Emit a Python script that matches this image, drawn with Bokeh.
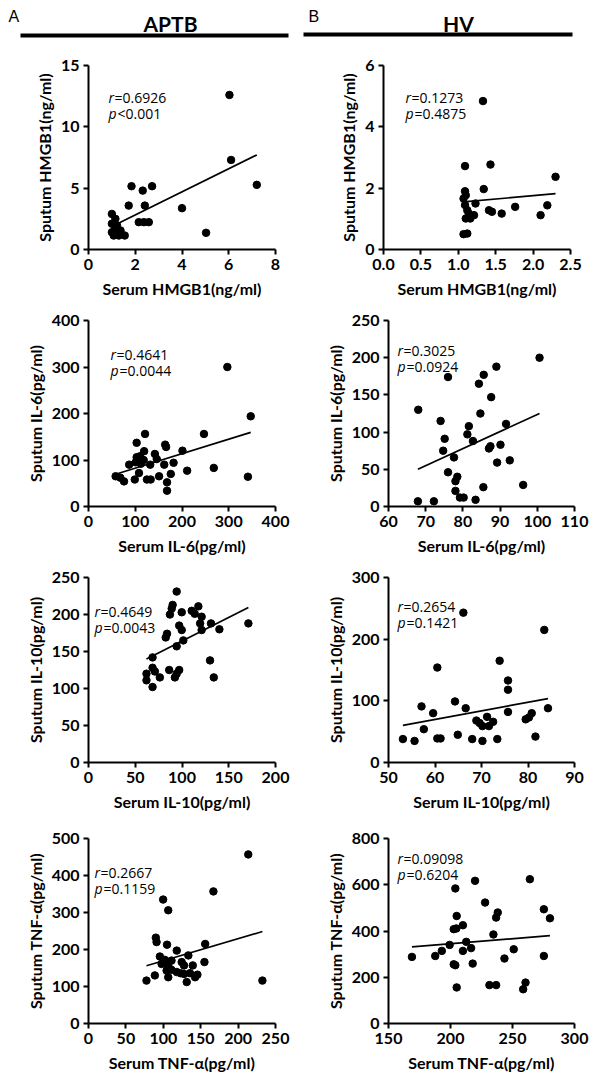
import numpy as np
from bokeh.plotting import figure
from bokeh.layouts import column, row
from bokeh.models import Range1d, FixedTicker, PrintfTickFormatter, Label
from bokeh.embed import file_html
from bokeh.resources import INLINE

# ---------------- data ----------------
# A-a  APTB HMGB1
aa_x = [1.0, 1.15, 1.0, 1.22, 1.0, 1.08, 1.3, 1.55, 1.15, 1.37, 2.15, 2.37, 2.58, 1.72, 2.41, 4.0,
        1.84, 2.32, 2.72, 5.03, 6.03, 6.1, 7.2]
aa_y = [2.9, 2.5, 2.1, 1.96, 1.41, 1.14, 1.14, 1.14, 1.68, 1.55, 2.23, 2.23, 2.23, 3.58, 3.58, 3.37,
        5.16, 4.8, 5.16, 1.36, 12.6, 7.3, 5.27]
# B-a  HV HMGB1
ba_x = [1.33, 1.09, 1.43, 2.30, 1.34, 1.09, 1.10, 1.23, 1.41, 1.45, 1.58, 1.76, 2.19, 2.10, 1.07,
        1.09, 1.12, 1.10, 1.16, 1.21, 1.14, 1.07, 1.12]
ba_y = [4.84, 2.72, 2.77, 2.37, 1.97, 1.90, 1.77, 1.50, 1.28, 1.23, 1.17, 1.39, 1.44, 1.12, 1.66,
        1.45, 1.28, 1.01, 1.01, 1.12, 1.17, 0.50, 0.52]
# A-b  APTB IL-6
ab_x = [297, 347, 247, 121, 103, 164, 166, 119, 201, 142, 146, 103, 110, 87, 101, 112, 132, 162,
        182, 211, 268, 176, 108, 58, 76, 99, 125, 133, 151, 168, 168, 341, 68, 118]
ab_y = [300, 194, 156, 156, 137, 133, 128, 119, 120, 113, 102, 106, 108, 90, 95, 92, 90, 90,
        94, 77, 83, 70, 72, 65, 54, 58, 58, 58, 65, 52, 34, 64, 62, 100]
# B-b  HV IL-6
bb_x = [100.6, 89.0, 76.0, 85.6, 84.3, 87.6, 68.0, 84.7, 74.0, 91.6, 81.6, 81.2, 75.1, 82.7, 90.1,
        87.4, 87.0, 74.7, 77.6, 92.6, 89.2, 76.0, 78.5, 78.0, 96.2, 85.5, 78.0, 79.2, 80.2, 83.4,
        67.9, 72.2]
bb_y = [200, 188, 174, 177, 165, 147, 130, 125, 115, 111, 108, 97, 91, 88, 83,
        81, 78, 75, 66, 62, 59, 46, 40, 34, 29, 26, 21, 12, 12, 9, 7, 7]
# A-c  APTB IL-10
ac_x = [94.3, 90, 89, 99.7, 87.1, 110.4, 117.5, 121, 119.4, 131, 140, 171, 97, 99.7, 121, 84, 82.6,
        101.4, 94.3, 68.5, 130, 86.3, 97, 94.3, 92.4, 76.3, 134, 68.5, 71, 62, 62, 68.5, 113.6]
ac_y = [231, 213, 208, 203, 200, 205, 211, 197, 188, 188, 180, 188, 185, 179, 179, 174, 169,
        165, 157, 142, 138, 125, 125, 120, 115, 115, 115, 128, 123, 120, 111, 102, 201]
# B-c  HV IL-10
bc_x = [53.1, 55.6, 57.1, 57.6, 59.6, 60.5, 60.5, 61.2, 64.3, 64.9, 66.6, 66.1, 68.0, 68.9, 69.6,
        70.2, 70.2, 71.2, 71.6, 72.5, 73.4, 73.9, 75.7, 75.7, 75.7, 79.5, 80.2, 80.8, 81.6, 83.5, 84.3]
bc_y = [38, 35, 91, 54, 80, 154, 39, 39, 99, 45, 88, 243, 38, 68, 64,
        59, 35, 74, 59, 66, 38, 165, 133, 118, 82, 70, 73, 80, 42, 215, 88]
# A-d  APTB TNF-a
ad_x = [213.6, 167, 99.8, 106.6, 232.5, 90, 91, 105, 118, 156, 95.4, 133.5, 102, 111, 97.7, 106.6,
        124.6, 127.7, 139.4, 155, 104.4, 111, 118, 123, 127.7, 135.7, 106.6, 145.6, 142.5, 88.7,
        77.5, 131.3]
ad_y = [457, 357, 335, 306, 116, 232, 220, 213, 197, 215, 181, 184, 172, 170, 161, 157,
        166, 157, 157, 166, 143, 145, 139, 136, 134, 136, 125, 132, 125, 130, 116, 112]
# B-d  HV TNF-a
bd_x = [168.9, 187.7, 193, 199.3, 202.6, 204.7, 203.9, 205, 210, 212.7, 210, 216.6, 202.6, 203.9,
        217.9, 205, 219.8, 227.9, 234.6, 236.8, 238.1, 231.4, 236.8, 243.5, 251, 264, 260.5, 258.6,
        275.3, 280.2, 275.3]
bd_y = [288, 292, 314, 340, 408, 411, 584, 465, 425, 353, 314, 326, 256, 252,
        259, 156, 617, 523, 385, 458, 480, 166, 166, 281, 321, 624, 177, 148,
        494, 455, 292]

stats_r = ["=0.6926", "=0.1273", "=0.4641", "=0.3025", "=0.4649", "=0.2654", "=0.2667", "=0.09098"]
stats_p = ["<0.001", "=0.4875", "=0.0044", "=0.0924", "=0.0043", "=0.1421", "=0.1159", "=0.6204"]

FONT = "Lato"
NOTE_FONT = "Open Sans"


def make_panel(x, y, xr, xticks, yr, yticks, xlab, ylab, rtxt, ptxt, letter,
               w, h, lb, rb, tb, bb, ann, let, xfmt=None):
    p = figure(width=w, height=h, x_range=Range1d(*xr), y_range=Range1d(*yr),
               output_backend="svg", toolbar_location=None,
               min_border_left=lb, min_border_right=rb, min_border_top=tb, min_border_bottom=bb)
    p.outline_line_color = None
    p.grid.visible = False
    p.background_fill_color = "white"
    p.border_fill_color = "white"
    for ax in (p.xaxis[0], p.yaxis[0]):
        ax.axis_line_width = 2
        ax.axis_line_color = "black"
        ax.major_tick_line_width = 2
        ax.major_tick_line_color = "black"
        ax.major_tick_out = 5
        ax.major_tick_in = 0
        ax.minor_tick_line_color = None
        ax.major_label_text_font = FONT
        ax.major_label_text_font_style = "bold"
        ax.major_label_text_font_size = "16px"
        ax.major_label_text_color = "black"
        ax.axis_label_text_font = FONT
        ax.axis_label_text_font_style = "bold"
        ax.axis_label_text_font_size = "16px"
        ax.axis_label_text_color = "black"
        ax.major_label_standoff = 4
    p.xaxis[0].axis_label_standoff = 6
    p.yaxis[0].axis_label_standoff = 4
    p.xaxis.ticker = FixedTicker(ticks=xticks)
    p.yaxis.ticker = FixedTicker(ticks=yticks)
    if xfmt:
        p.xaxis.formatter = PrintfTickFormatter(format=xfmt)
    p.xaxis.axis_label = xlab
    p.yaxis.axis_label = ylab

    p.scatter(x, y, size=7.5, color="black")
    k, b = np.polyfit(np.array(x, float), np.array(y, float), 1)
    xx = np.array([min(x), max(x)], float)
    p.line(xx, k * xx + b, line_width=1.7, color="black")

    dx, dy1, dy2 = ann
    common = dict(x=xr[0], y=yr[1], text_baseline="top", text_font=NOTE_FONT,
                  text_font_size="14px", text_color="black")
    p.add_layout(Label(text="r", x_offset=dx, y_offset=-dy1, text_font_style="italic", **common))
    p.add_layout(Label(text=rtxt, x_offset=dx + 6, y_offset=-dy1, **common))
    p.add_layout(Label(text="p", x_offset=dx, y_offset=-dy2, text_font_style="italic", **common))
    p.add_layout(Label(text=ptxt, x_offset=dx + 9, y_offset=-dy2, **common))

    lx, ly = let
    p.add_layout(Label(text=letter, x=xr[0], y=yr[1], x_offset=lx, y_offset=-ly,
                       text_baseline="alphabetic", text_font="Liberation Sans",
                       text_font_size="15px", text_color="black"))
    return p


# header
hdr = figure(width=600, height=45, x_range=Range1d(0, 600), y_range=Range1d(45, 0),
             output_backend="svg", toolbar_location=None,
             min_border=0, min_border_left=0, min_border_right=0, min_border_top=0, min_border_bottom=0)
hdr.axis.visible = False
hdr.grid.visible = False
hdr.outline_line_color = None
hdr.segment(x0=[20, 303], y0=[35, 34], x1=[288, 572], y1=[35, 34], line_width=4, color="black")
for t, xx in [("A", 8), ("B", 308)]:
    hdr.add_layout(Label(text=t, x=xx, y=7, text_font="Liberation Sans", text_font_size="16px",
                         text_align="left", text_baseline="top", text_color="black"))
for t, xx in [("APTB", 170), ("HV", 458)]:
    hdr.add_layout(Label(text=t, x=xx, y=10, text_font=FONT, text_font_size="21px",
                         text_font_style="bold", text_align="center", text_baseline="top",
                         text_color="black"))

LW = dict(w=300, lb=88, rb=25)
RWa = dict(w=300, lb=83, rb=30)
RW = dict(w=300, lb=88, rb=26)

Aa = make_panel(aa_x, aa_y, (0, 8), [0, 2, 4, 6, 8], (0, 15), [0, 5, 10, 15],
                "Serum HMGB1(ng/ml)", "Sputum HMGB1(ng/ml)", stats_r[0], stats_p[0], "a",
                h=260, tb=20, bb=56, ann=(20, 22, 38), let=(-76, 0), **LW)
Ba = make_panel(ba_x, ba_y, (0, 2.5), [0, 0.5, 1.0, 1.5, 2.0, 2.5], (0, 6), [0, 2, 4, 6],
                "Serum HMGB1(ng/ml)", "Sputum HMGB1(ng/ml)", stats_r[1], stats_p[1], "a",
                h=260, tb=20, bb=56, ann=(22, 22, 38), let=(-73, 0), xfmt="%.1f", **RWa)
Ab = make_panel(ab_x, ab_y, (0, 400), [0, 100, 200, 300, 400], (0, 400), [0, 100, 200, 300, 400],
                "Serum IL-6(pg/ml)", "Sputum IL-6(pg/ml)", stats_r[2], stats_p[2], "b",
                h=257, tb=15, bb=56, ann=(22, 24, 40), let=(-85, 2), **LW)
Bb = make_panel(bb_x, bb_y, (60, 110), [60, 70, 80, 90, 100, 110], (0, 250), [0, 50, 100, 150, 200, 250],
                "Serum IL-6(pg/ml)", "Sputum IL-6(pg/ml)", stats_r[3], stats_p[3], "b",
                h=257, tb=15, bb=56, ann=(9, 20, 36), let=(-81, 2), **RW)
Ac = make_panel(ac_x, ac_y, (0, 200), [0, 50, 100, 150, 200], (0, 250), [0, 50, 100, 150, 200, 250],
                "Serum IL-10(pg/ml)", "Sputum IL-10(pg/ml)", stats_r[4], stats_p[4], "c",
                h=256, tb=15, bb=56, ann=(6, 24, 40), let=(-84, 13), **LW)
Bc = make_panel(bc_x, bc_y, (50, 90), [50, 60, 70, 80, 90], (0, 300), [0, 100, 200, 300],
                "Serum IL-10(pg/ml)", "Sputum IL-10(pg/ml)", stats_r[5], stats_p[5], "c",
                h=256, tb=15, bb=56, ann=(9, 19, 35), let=(-80, 8), **RW)
Ad = make_panel(ad_x, ad_y, (0, 250), [0, 50, 100, 150, 200, 250], (0, 500), [0, 100, 200, 300, 400, 500],
                "Serum TNF-α(pg/ml)", "Sputum TNF-α(pg/ml)", stats_r[6], stats_p[6], "d",
                h=262, tb=20, bb=57, ann=(6, 24, 40), let=(-86, 0), **LW)
Bd = make_panel(bd_x, bd_y, (150, 300), [150, 200, 250, 300], (0, 800), [0, 200, 400, 600, 800],
                "Serum TNF-α(pg/ml)", "Sputum TNF-α(pg/ml)", stats_r[7], stats_p[7], "d",
                h=262, tb=20, bb=57, ann=(9, 10, 26), let=(-80, -1), **RW)

layout = column(hdr, row(Aa, Ba), row(Ab, Bb), row(Ac, Bc), row(Ad, Bd))
open("out.html", "w").write(file_html(layout, INLINE))
